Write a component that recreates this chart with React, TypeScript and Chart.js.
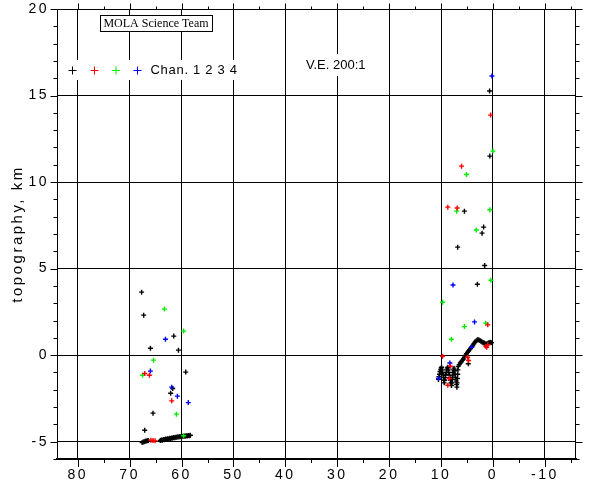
import { useEffect, useRef } from 'react';
import { Chart, registerables } from 'chart.js';

Chart.register(...registerables);

// ---------- data (x = distance, y = topography km) ----------
const xMin = -16;
const xMax = 84;
const yMin = -6;
const yMax = 20;
const xTickValues = [80, 70, 60, 50, 40, 30, 20, 10, 0, -10];
const yTickValues = [-5, 0, 5, 10, 15, 20];

const legendLabel = 'Chan. 1 2 3 4';
const yTitle = 'topography, km';
const teamLabel = 'MOLA Science Team';
const veLabel = 'V.E. 200:1';

const ch1Black: [number, number][] = [
  [67.7, 3.64], [67.3, 2.31], [66.0, 0.4], [61.5, 1.1], [60.6, 0.29], [59.2, -0.98],
  [62.1, -2.2], [61.7, -1.93], [65.5, -3.35], [67.1, -4.34],
  [0.65, 15.26], [0.6, 11.5], [5.5, 8.32], [1.8, 7.4], [2.1, 7.05], [6.8, 6.24],
  [1.6, 5.18], [3.0, 4.1], [4.75, -0.5],
];

const ch1TrackLeft: [number, number][] = [
  [67.6, -5.05], [67.4, -5.02], [67.2, -5.0], [67.0, -4.98], [66.8, -4.96], [66.6, -4.94],
  [66.4, -4.93], [64.1, -4.93], [63.9, -4.9], [63.7, -4.92], [63.5, -4.88], [63.3, -4.89],
  [63.1, -4.85], [62.9, -4.86], [62.7, -4.83], [62.5, -4.84], [62.3, -4.8], [62.1, -4.81],
  [61.9, -4.78], [61.7, -4.79], [61.5, -4.76], [61.3, -4.77], [61.1, -4.74], [60.9, -4.75],
  [60.7, -4.72], [60.5, -4.73], [60.3, -4.7], [60.1, -4.71], [59.9, -4.69], [59.7, -4.7],
  [59.5, -4.67], [59.3, -4.68], [59.1, -4.66], [58.9, -4.67], [58.7, -4.64], [58.5, -4.65],
  [58.3, -4.63],
];

const ch1TrackRight: [number, number][] = [
  [10.5, -1.4], [10.4, -1.25], [10.3, -1.1], [10.2, -0.95], [10.1, -0.85], [10.0, -0.75],
  [9.9, -0.7], [9.8, -0.85], [9.7, -1.0], [9.6, -1.15], [9.5, -1.3], [9.45, -1.45],
  [9.4, -1.6], [9.3, -1.45], [9.2, -1.3], [9.1, -1.15], [9.0, -1.0], [8.9, -0.85],
  [8.8, -0.75], [8.7, -0.7], [8.6, -0.85], [8.5, -1.0], [8.4, -1.15], [8.3, -1.3],
  [8.2, -1.45], [8.1, -1.6], [8.0, -1.75], [7.9, -1.6], [7.8, -1.4], [7.75, -1.2],
  [7.7, -1.0], [7.6, -0.85], [7.5, -0.75], [7.4, -0.9], [7.3, -1.1], [7.2, -1.3],
  [7.1, -1.5], [7.0, -1.7], [6.95, -1.85], [6.9, -1.6], [6.85, -1.35], [6.8, -1.1],
  [6.75, -0.85], [6.7, -0.65], [6.5, -0.55], [6.3, -0.45], [6.1, -0.38], [5.9, -0.3],
  [5.7, -0.22], [5.5, -0.12], [5.3, -0.02], [5.1, 0.08], [4.9, 0.16], [4.7, 0.24],
  [4.5, 0.32], [4.3, 0.4], [4.1, 0.48], [3.9, 0.56], [3.7, 0.65], [3.5, 0.74],
  [3.3, 0.8], [3.1, 0.86], [2.9, 0.9], [2.7, 0.88], [2.5, 0.84], [2.3, 0.8],
  [2.1, 0.76], [1.9, 0.72], [1.7, 0.7], [1.5, 0.66], [1.3, 0.64], [1.1, 0.66],
  [0.9, 0.7], [0.7, 0.72], [0.5, 0.74], [0.3, 0.72],
];

const ch2Red: [number, number][] = [
  [67.1, -1.06], [66.2, -1.16], [61.9, -2.64], [65.9, -4.92], [65.5, -4.93], [65.1, -4.95],
  [6.05, 10.92], [8.7, 8.55], [6.9, 8.5], [0.45, 13.87], [1.0, 1.75], [9.7, -0.06],
  [8.2, -0.64], [4.9, -0.12], [4.7, -0.31], [8.4, -1.35], [8.7, -1.74], [1.35, 0.5],
  [1.0, 0.6], [1.2, 0.45],
];

const ch3Green: [number, number][] = [
  [63.3, 2.66], [59.6, 1.39], [65.4, -0.29], [67.5, -1.16], [61.0, -3.41], [59.6, -4.66],
  [0.0, 11.79], [5.1, 10.44], [7.0, 8.32], [0.6, 8.4], [3.2, 7.23], [0.4, 4.33],
  [9.7, 3.06], [1.4, 1.85], [5.5, 1.65], [8.0, 0.92],
];

const ch4Blue: [number, number][] = [
  [63.1, 0.92], [66.0, -0.92], [61.9, -1.85], [60.8, -2.37], [58.7, -2.74],
  [0.2, 16.13], [7.7, 4.05], [3.55, 1.92], [4.1, 0.46], [8.3, -0.45], [10.5, -1.35],
];

const colors = { ch1: '#000000', ch2: '#ff0000', ch3: '#00ee00', ch4: '#0000ff' };

const toPts = (arr: [number, number][]) => arr.map(([x, y]) => ({ x, y }));

const overlayPlugin = {
  id: 'overlay',
  beforeDraw(chart: any) {
    chart.ctx.letterSpacing = '2.5px';
  },
  afterDraw(chart: any) {
    const { ctx, chartArea: a, scales } = chart;
    const xs = scales.x;
    const ys = scales.y;
    ctx.save();
    ctx.letterSpacing = '0px';
    ctx.strokeStyle = '#000';
    ctx.lineWidth = 1;
    const L = Math.round(a.left) + 0.5;
    const R = Math.round(a.right) - 0.5;
    const T = Math.round(a.top) + 0.5;
    const B = Math.round(a.bottom);
    const seg = (x1: number, y1: number, x2: number, y2: number) => {
      ctx.beginPath();
      ctx.moveTo(x1, y1);
      ctx.lineTo(x2, y2);
      ctx.stroke();
    };
    // frame top/right
    seg(L, T, R, T);
    seg(R, T, R, B);
    // x tick marks
    for (let v = Math.ceil(xs.min / 5) * 5; v <= xs.max; v += 5) {
      const px = Math.round(xs.getPixelForValue(v)) + 0.5;
      const major = v % 10 === 0;
      seg(px, B, px, B + (major ? 8 : 4));
      seg(px, T, px, T - (major ? 6 : 3));
    }
    // y tick marks
    for (let v = Math.ceil(ys.min); v <= ys.max; v += 1) {
      const py = Math.round(ys.getPixelForValue(v)) + 0.5;
      const major = v % 5 === 0;
      seg(L, py, L - (major ? 7 : 4), py);
      seg(R, py, R + (major ? 7 : 4), py);
    }
    // MOLA box
    const bx = a.left + 43;
    const by = a.top + 6;
    ctx.fillStyle = '#fff';
    ctx.fillRect(bx, by, 112, 16);
    ctx.strokeRect(Math.round(bx) + 0.5, Math.round(by) + 0.5, 112, 16);
    ctx.fillStyle = '#000';
    ctx.font = '12px "Liberation Serif", serif';
    ctx.textAlign = 'center';
    ctx.textBaseline = 'middle';
    ctx.fillText(teamLabel, bx + 56, by + 8.5);
    // legend
    const ly = a.top + 61;
    ctx.fillStyle = '#fff';
    ctx.fillRect(a.left + 7, ly - 10, 179, 20);
    const syms = [colors.ch1, colors.ch2, colors.ch3, colors.ch4];
    const symX = [72, 94, 115.5, 137];
    syms.forEach((c, i) => {
      ctx.strokeStyle = c;
      ctx.lineWidth = 1;
      const cx = symX[i] + 0.5;
      const cy = Math.round(ly) + 0.5;
      seg(cx - 4, cy, cx + 4, cy);
      seg(cx, cy - 4, cx, cy + 4);
    });
    ctx.fillStyle = '#000';
    ctx.font = '13px "Liberation Sans", Arial, sans-serif';
    ctx.textAlign = 'left';
    ctx.letterSpacing = '0.7px';
    ctx.fillText(legendLabel, 150.5, ly + 0.5);
    // V.E.
    const vy = a.top + 56;
    ctx.letterSpacing = '0px';
    ctx.fillStyle = '#fff';
    ctx.fillRect(302, vy - 11, 70, 22);
    ctx.fillStyle = '#000';
    ctx.fillText(veLabel, 306, vy + 0.5);
    ctx.restore();
  },
};

export default function App() {
  const ref = useRef<HTMLCanvasElement>(null);
  useEffect(() => {
    document.body.style.margin = '0';
    if (!ref.current) return;
    const ptStyle = (c: string) => ({
      backgroundColor: c,
      borderColor: c,
      pointStyle: 'cross' as const,
      pointRadius: 2.5,
      pointBorderWidth: 1.4,
      pointHoverRadius: 2.5,
    });
    const chart = new Chart(ref.current, {
      type: 'scatter',
      data: {
        datasets: [
          { label: 'Chan. 2', data: toPts(ch2Red), ...ptStyle(colors.ch2) },
          { label: 'Chan. 4', data: toPts(ch4Blue), ...ptStyle(colors.ch4) },
          { label: 'Chan. 3', data: toPts(ch3Green), ...ptStyle(colors.ch3) },
          {
            label: 'Chan. 1',
            data: toPts([...ch1Black, ...ch1TrackLeft, ...ch1TrackRight]),
            ...ptStyle(colors.ch1),
          },
        ],
      },
      options: {
        responsive: false,
        animation: false,
        devicePixelRatio: 1,
        layout: { padding: { top: 9, right: 24, left: 0, bottom: 0 } },
        plugins: { legend: { display: false }, tooltip: { enabled: false } },
        scales: {
          x: {
            type: 'linear',
            min: xMin,
            max: xMax,
            reverse: true,
            afterBuildTicks: (s: any) => {
              s.ticks = xTickValues.map((v) => ({ value: v }));
            },
            afterFit: (s: any) => {
              s.height = 21;
              s.paddingLeft = 0;
              s.paddingRight = 0;
            },
            ticks: {
              color: '#000',
              padding: 8,
              maxRotation: 0,
              autoSkip: false,
              font: { family: '"Liberation Sans", Arial, sans-serif', size: 14 },
            },
            grid: { color: '#000', lineWidth: 1, drawTicks: false },
            border: { color: '#000', width: 2 },
          },
          y: {
            type: 'linear',
            min: yMin,
            max: yMax,
            afterBuildTicks: (s: any) => {
              s.ticks = yTickValues.map((v) => ({ value: v }));
            },
            afterFit: (s: any) => {
              s.width = 57;
              s.paddingTop = 0;
              s.paddingBottom = 0;
            },
            ticks: {
              color: '#000',
              padding: 8,
              autoSkip: false,
              font: { family: '"Liberation Sans", Arial, sans-serif', size: 14 },
            },
            grid: { color: '#000', lineWidth: 1, drawTicks: false },
            border: { color: '#000', width: 1 },
            title: {
              display: true,
              text: yTitle,
              color: '#000',
              font: { family: '"Liberation Sans", Arial, sans-serif', size: 15 },
              padding: { top: 9, bottom: 0 },
            },
          },
        },
      },
      plugins: [overlayPlugin],
    });
    return () => chart.destroy();
  }, []);
  return (
    <div style={{ width: 600, height: 480 }}>
      <canvas ref={ref} width={600} height={480} style={{ display: 'block' }} />
    </div>
  );
}
